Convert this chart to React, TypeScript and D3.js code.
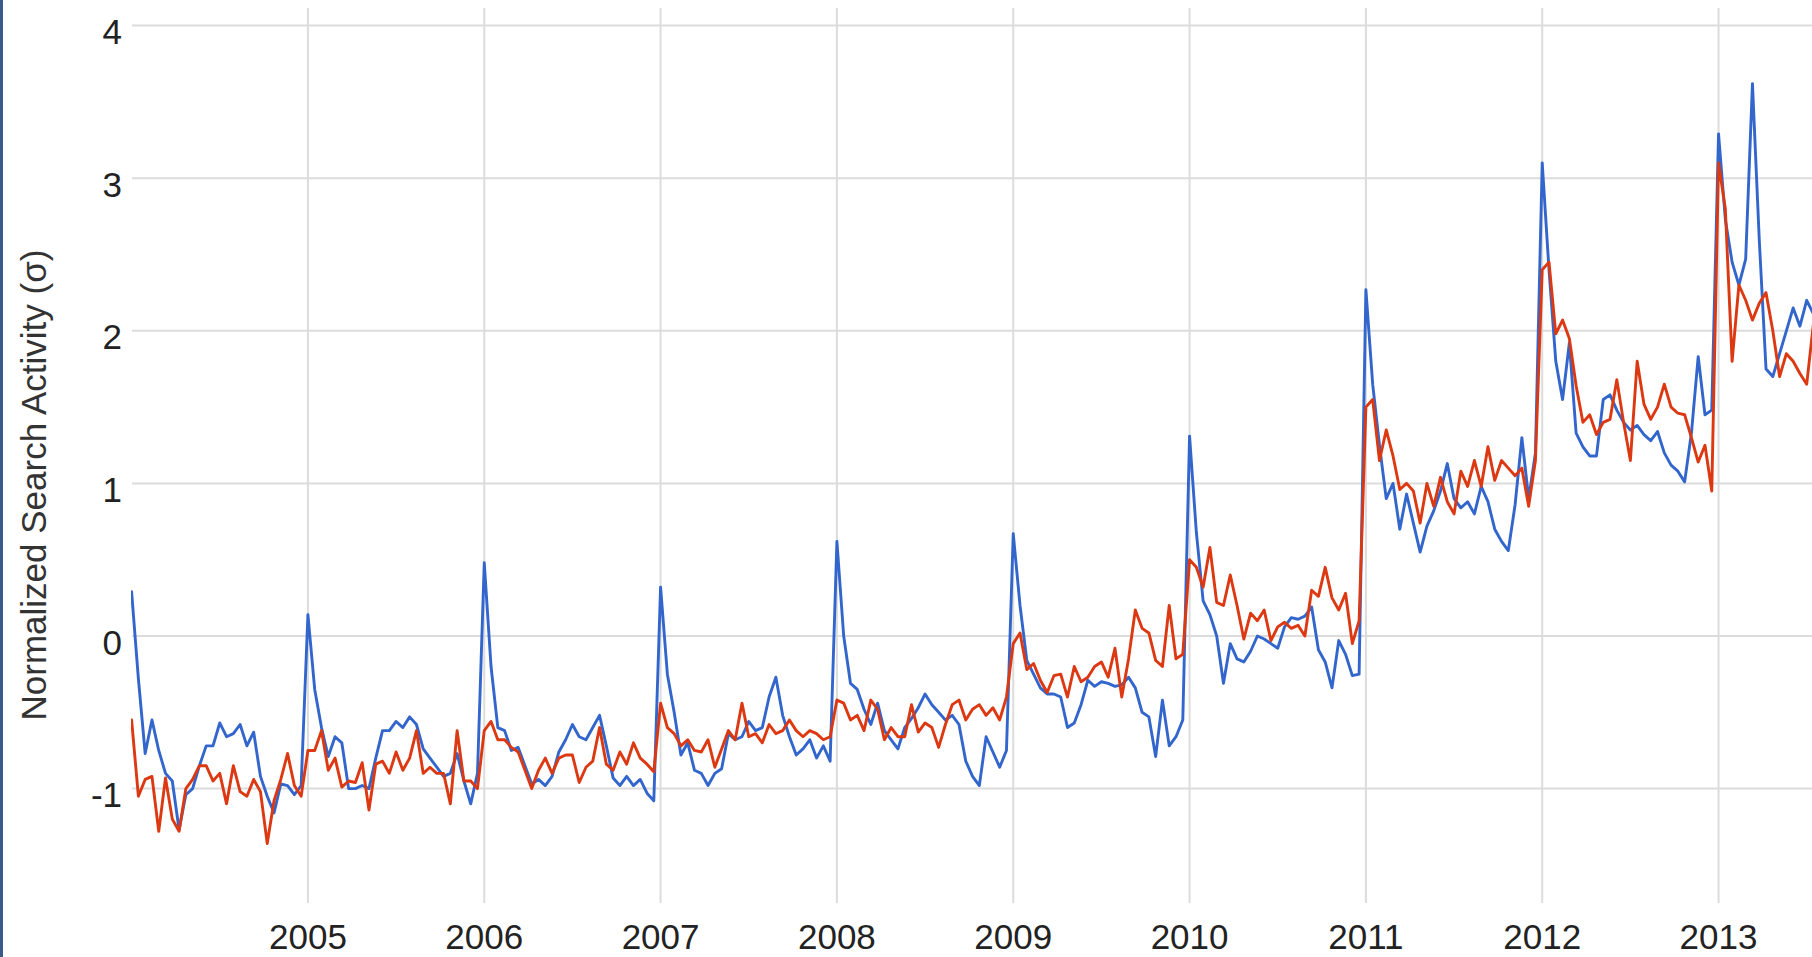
import React from "react";
import * as d3 from "d3";

// Biweekly readings (26 per year), normalized search activity (σ)
const blue2004 = [0.29,-0.28,-0.77,-0.55,-0.75,-0.90,-0.95,-1.27,-1.04,-1.0,-0.85,-0.72,-0.72,-0.57,-0.66,-0.64,-0.58,-0.72,-0.63,-0.92,-1.05,-1.16,-0.97,-0.98,-1.04,-0.98];
const blue2005 = [0.14,-0.35,-0.60,-0.79,-0.66,-0.70,-1.0,-1.0,-0.98,-1.0,-0.80,-0.62,-0.62,-0.56,-0.60,-0.53,-0.58,-0.74,-0.80,-0.86,-0.92,-0.90,-0.77,-0.95,-1.10,-0.90];
const blue2006 = [0.48,-0.20,-0.60,-0.62,-0.75,-0.73,-0.85,-0.97,-0.94,-0.98,-0.92,-0.76,-0.68,-0.58,-0.66,-0.68,-0.60,-0.52,-0.72,-0.93,-0.98,-0.92,-0.98,-0.94,-1.03,-1.08];
const blue2007 = [0.32,-0.25,-0.50,-0.78,-0.70,-0.88,-0.90,-0.98,-0.90,-0.87,-0.64,-0.68,-0.66,-0.56,-0.62,-0.60,-0.40,-0.27,-0.52,-0.66,-0.78,-0.74,-0.68,-0.80,-0.72,-0.82];
const blue2008 = [0.62,0.0,-0.31,-0.35,-0.48,-0.58,-0.44,-0.62,-0.68,-0.74,-0.60,-0.54,-0.47,-0.38,-0.45,-0.50,-0.55,-0.52,-0.58,-0.82,-0.92,-0.98,-0.66,-0.76,-0.86,-0.75];
const blue2009 = [0.67,0.20,-0.16,-0.25,-0.34,-0.38,-0.38,-0.40,-0.60,-0.57,-0.45,-0.29,-0.33,-0.30,-0.31,-0.33,-0.32,-0.27,-0.34,-0.50,-0.53,-0.79,-0.42,-0.72,-0.66,-0.55];
const blue2010 = [1.31,0.68,0.23,0.14,0.0,-0.31,-0.05,-0.15,-0.17,-0.10,0.0,-0.02,-0.05,-0.08,0.06,0.12,0.11,0.13,0.19,-0.09,-0.17,-0.34,-0.03,-0.12,-0.26,-0.25];
const blue2011 = [2.27,1.65,1.25,0.90,1.0,0.70,0.93,0.74,0.55,0.72,0.82,0.95,1.13,0.90,0.84,0.88,0.80,0.98,0.88,0.70,0.62,0.56,0.86,1.30,0.90,1.20];
const blue2012 = [3.10,2.40,1.80,1.55,1.92,1.33,1.24,1.18,1.18,1.55,1.58,1.48,1.40,1.35,1.38,1.32,1.28,1.34,1.20,1.12,1.08,1.01,1.33,1.83,1.45,1.48];
const blue2013 = [3.29,2.73,2.45,2.30,2.47,3.62,2.60,1.75,1.70,1.85,2.0,2.15,2.03,2.20,2.11];

const red2004 = [-0.55,-1.05,-0.94,-0.92,-1.28,-0.93,-1.2,-1.28,-1.0,-0.94,-0.85,-0.85,-0.95,-0.90,-1.10,-0.85,-1.02,-1.05,-0.94,-1.02,-1.36,-1.08,-0.94,-0.77,-0.98,-1.05];
const red2005 = [-0.75,-0.75,-0.62,-0.88,-0.80,-0.99,-0.95,-0.96,-0.83,-1.14,-0.84,-0.82,-0.90,-0.76,-0.88,-0.80,-0.62,-0.90,-0.86,-0.90,-0.90,-1.10,-0.62,-0.95,-0.95,-1.0];
const red2006 = [-0.62,-0.56,-0.68,-0.68,-0.73,-0.76,-0.88,-1.0,-0.88,-0.80,-0.90,-0.80,-0.78,-0.78,-0.96,-0.86,-0.82,-0.60,-0.84,-0.88,-0.76,-0.84,-0.70,-0.80,-0.84,-0.89];
const red2007 = [-0.44,-0.60,-0.64,-0.72,-0.68,-0.75,-0.76,-0.68,-0.86,-0.74,-0.62,-0.68,-0.44,-0.66,-0.64,-0.70,-0.58,-0.64,-0.62,-0.55,-0.62,-0.66,-0.62,-0.64,-0.68,-0.66];
const red2008 = [-0.42,-0.44,-0.55,-0.52,-0.62,-0.42,-0.48,-0.68,-0.60,-0.66,-0.66,-0.45,-0.63,-0.57,-0.60,-0.73,-0.58,-0.45,-0.42,-0.55,-0.48,-0.45,-0.52,-0.47,-0.55,-0.40];
const red2009 = [-0.05,0.02,-0.22,-0.18,-0.29,-0.37,-0.26,-0.25,-0.40,-0.20,-0.30,-0.27,-0.20,-0.17,-0.27,-0.08,-0.40,-0.15,0.17,0.05,0.02,-0.16,-0.20,0.20,-0.15,-0.12];
const red2010 = [0.50,0.45,0.32,0.58,0.22,0.20,0.40,0.20,-0.02,0.15,0.10,0.17,-0.03,0.06,0.09,0.05,0.07,0.0,0.30,0.26,0.45,0.25,0.17,0.28,-0.05,0.10];
const red2011 = [1.50,1.55,1.15,1.35,1.18,0.96,1.0,0.95,0.74,1.0,0.85,1.04,0.88,0.80,1.08,0.98,1.15,0.98,1.24,1.02,1.15,1.10,1.05,1.10,0.85,1.15];
const red2012 = [2.40,2.45,1.98,2.07,1.95,1.64,1.40,1.45,1.32,1.40,1.42,1.68,1.40,1.15,1.80,1.52,1.42,1.50,1.65,1.50,1.46,1.45,1.30,1.14,1.25,0.95];
const red2013 = [3.10,2.80,1.80,2.30,2.20,2.07,2.18,2.25,2.00,1.70,1.85,1.80,1.72,1.65,2.05];

const firstYear = 2004;
const blueYears = [blue2004, blue2005, blue2006, blue2007, blue2008, blue2009, blue2010, blue2011, blue2012, blue2013];
const redYears = [red2004, red2005, red2006, red2007, red2008, red2009, red2010, red2011, red2012, red2013];
const stepsPerYear = 26;

const xTickYears = [2005, 2006, 2007, 2008, 2009, 2010, 2011, 2012, 2013];
const yTickValues = [-1, 0, 1, 2, 3, 4];
const yAxisTitle = "Normalized Search Activity (σ)";

type Pt = { t: number; v: number };
const toPoints = (arrs: number[][]): Pt[] =>
  arrs.flatMap((arr, k) => arr.map((v, i) => ({ t: firstYear + k + i / stepsPerYear, v })));

const W = 1812;
const H = 957;
const FONT = "'Liberation Sans', Arial, sans-serif";

export default function App() {
  const x = d3.scaleLinear().domain([2004, 2013.53]).range([131.6, 1812]);
  const y = d3.scaleLinear().domain([-1, 4]).range([788.6, 25.6]);
  const line = d3
    .line<Pt>()
    .x((d) => x(d.t))
    .y((d) => y(d.v));
  const bluePts = toPoints(blueYears);
  const redPts = toPoints(redYears);

  return (
    <svg
      width={W}
      height={H}
      style={{ position: "absolute", left: 0, top: 0, display: "block", background: "#fff" }}
    >
      <rect x={0} y={0} width={W} height={H} fill="#fff" />
      <defs>
        <clipPath id="plot">
          <rect x={131} y={0} width={W - 131} height={H} />
        </clipPath>
      </defs>
      {yTickValues.map((v) => (
        <line key={"h" + v} x1={132} x2={W} y1={y(v)} y2={y(v)} stroke="#dcdcdc" strokeWidth={2} />
      ))}
      {xTickYears.map((yr) => (
        <line key={"v" + yr} x1={x(yr)} x2={x(yr)} y1={8} y2={903} stroke="#dcdcdc" strokeWidth={2} />
      ))}
      <g clipPath="url(#plot)" fill="none" strokeWidth={2.9} strokeLinejoin="round" strokeLinecap="round">
        <path d={line(bluePts) || ""} stroke="#3366cc" />
        <path d={line(redPts) || ""} stroke="#dc3912" />
      </g>
      {yTickValues.map((v) => (
        <text
          key={"yl" + v}
          x={122}
          y={y(v) + 6}
          textAnchor="end"
          dominantBaseline="central"
          fontFamily={FONT}
          fontSize={35}
          fill="#222"
        >
          {v}
        </text>
      ))}
      {xTickYears.map((yr) => (
        <text
          key={"xl" + yr}
          x={x(yr)}
          y={949}
          textAnchor="middle"
          fontFamily={FONT}
          fontSize={35}
          fill="#222"
        >
          {yr}
        </text>
      ))}
      <text
        transform={`translate(46, 485) rotate(-90)`}
        textAnchor="middle"
        fontFamily={FONT}
        fontSize={35}
        fill="#333"
      >
        {yAxisTitle}
      </text>
      <rect x={0} y={0} width={3} height={H} fill="#3a5a8c" />
    </svg>
  );
}
